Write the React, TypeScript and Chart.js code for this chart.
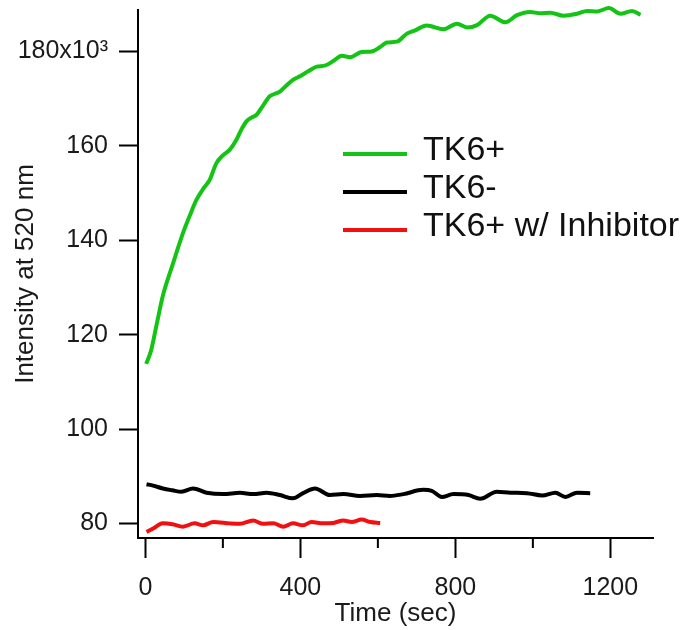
import React, { useEffect, useRef } from 'react';
import { Chart, registerables } from 'chart.js';

Chart.register(...registerables);

const seriesLabels = ['TK6+', 'TK6-', 'TK6+ w/ Inhibitor'];
const seriesColors = ['#14c414', '#000000', '#f20f0f'];

const tk6PlusTime = [2, 15, 30, 45, 71, 97, 115, 132, 150, 166, 183, 200, 218, 235, 248, 261, 274, 287, 304, 321, 347, 364, 381, 400, 420, 442, 463, 485, 507, 528, 558, 584, 605, 623, 649, 675, 696, 726, 769, 804, 830, 856, 890, 929, 959, 993, 1019, 1045, 1079, 1114, 1140, 1166, 1196, 1226, 1256, 1278];
const tk6PlusIntensity = [113.8, 116.7, 122.5, 128.2, 135.0, 141.5, 145.3, 148.6, 151.0, 152.8, 156.3, 158.0, 159.2, 161.3, 163.5, 165.2, 166.0, 166.6, 168.6, 170.5, 171.5, 172.8, 174.0, 174.8, 175.8, 176.8, 177.0, 178.0, 179.1, 178.8, 179.9, 180.0, 180.9, 181.9, 182.1, 183.8, 184.5, 185.5, 184.7, 185.9, 185.1, 185.6, 187.6, 186.2, 187.7, 188.4, 188.1, 188.2, 187.6, 188.0, 188.6, 188.5, 189.2, 188.0, 188.6, 187.8];

const tk6MinusTime = [3, 20, 45, 70, 93, 123, 158, 201, 244, 278, 313, 347, 381, 407, 438, 476, 511, 554, 597, 631, 666, 717, 739, 765, 795, 834, 864, 907, 942, 985, 1024, 1058, 1084, 1114, 1148];
const tk6MinusIntensity = [88.3, 88.0, 87.4, 87.0, 86.7, 87.4, 86.5, 86.2, 86.5, 86.2, 86.5, 86.0, 85.3, 86.4, 87.4, 86.0, 86.2, 85.8, 86.0, 85.8, 86.2, 87.1, 86.9, 85.6, 86.2, 86.0, 85.2, 86.7, 86.5, 86.4, 85.9, 86.5, 85.6, 86.5, 86.4];

const inhibitorTime = [3, 20, 45, 70, 97, 127, 149, 175, 218, 244, 278, 304, 330, 356, 381, 407, 429, 459, 485, 511, 532, 558, 580, 606];
const inhibitorIntensity = [78.2, 78.9, 80.0, 79.8, 79.3, 80.0, 79.6, 80.3, 80.0, 79.9, 80.6, 79.9, 80.0, 79.3, 80.0, 79.6, 80.3, 80.0, 80.1, 80.6, 80.3, 80.8, 80.3, 80.1];

const xMajorTicks = [0, 400, 800, 1200];
const xMinorTicks = [200, 600, 1000];
const yTickValues = [80, 100, 120, 140, 160, 180];
const yTickLabels = ['80', '100', '120', '140', '160', '180x10³'];

const FONT = "'Liberation Sans', Arial, sans-serif";

function toPoints(xs: number[], ys: number[]) {
  return xs.map((x, i) => ({ x, y: ys[i] }));
}

const minorTickPlugin = {
  id: 'minorTicks',
  afterDraw(chart: any) {
    const xs = chart.scales.x;
    const ctx = chart.ctx;
    ctx.save();
    ctx.strokeStyle = '#000';
    ctx.lineWidth = 2;
    xMinorTicks.forEach((v) => {
      const px = xs.getPixelForValue(v);
      ctx.beginPath();
      ctx.moveTo(px, xs.top);
      ctx.lineTo(px, xs.top + 10);
      ctx.stroke();
    });
    ctx.restore();
  },
};

const legendPlugin = {
  id: 'customLegend',
  afterDraw(chart: any) {
    const ctx = chart.ctx;
    ctx.save();
    chart.data.datasets.forEach((ds: any, i: number) => {
      const y = 154 + 38 * i;
      ctx.strokeStyle = ds.borderColor;
      ctx.lineWidth = 4;
      ctx.beginPath();
      ctx.moveTo(343, y);
      ctx.lineTo(407, y);
      ctx.stroke();
      ctx.fillStyle = '#111';
      ctx.font = `34px ${FONT}`;
      ctx.textAlign = 'left';
      ctx.textBaseline = 'middle';
      ctx.fillText(ds.label, 423, y - 3);
    });
    ctx.restore();
  },
};

export default function App() {
  const ref = useRef<HTMLCanvasElement>(null);

  useEffect(() => {
    if (!ref.current) return;
    const seriesTimes = [tk6PlusTime, tk6MinusTime, inhibitorTime];
    const seriesValues = [tk6PlusIntensity, tk6MinusIntensity, inhibitorIntensity];
    const chart = new Chart(ref.current, {
      type: 'line',
      data: {
        datasets: seriesLabels.map((label, i) => ({
          label,
          data: toPoints(seriesTimes[i], seriesValues[i]),
          borderColor: seriesColors[i],
          backgroundColor: seriesColors[i],
          borderWidth: 4,
          pointRadius: 0,
          cubicInterpolationMode: 'monotone' as const,
          fill: false,
          clip: false as any,
        })),
      },
      options: {
        responsive: false,
        animation: false,
        layout: { padding: { top: 10, right: 31, left: 0, bottom: 0 } },
        plugins: {
          legend: { display: false },
          tooltip: { enabled: false },
        },
        scales: {
          x: {
            type: 'linear',
            min: -19,
            max: 1310,
            afterFit: (scale: any) => {
              scale.height = 92;
              scale.paddingLeft = 0;
              scale.paddingRight = 0;
            },
            afterBuildTicks: (scale: any) => { scale.ticks = xMajorTicks.map((v) => ({ value: v })); },
            border: { display: true, color: '#000', width: 2 },
            grid: { drawOnChartArea: false, drawTicks: true, tickLength: 20, tickWidth: 2, tickColor: '#000' },
            ticks: {
              color: '#1a1a1a',
              font: { family: FONT, size: 25 },
              padding: 15,
              maxRotation: 0,
              callback: (v: any) => String(v),
            },
            title: {
              display: true,
              text: 'Time (sec)',
              color: '#1a1a1a',
              font: { family: FONT, size: 26 },
              padding: { top: 0, bottom: 1 },
            },
          },
          y: {
            type: 'linear',
            min: 76.9,
            max: 188.8,
            afterFit: (scale: any) => {
              scale.width = 138;
              scale.paddingTop = 0;
              scale.paddingBottom = 0;
            },
            afterBuildTicks: (scale: any) => { scale.ticks = yTickValues.map((v) => ({ value: v })); },
            border: { display: true, color: '#000', width: 2 },
            grid: { drawOnChartArea: false, drawTicks: true, tickLength: 19, tickWidth: 2, tickColor: '#000' },
            ticks: {
              color: '#1a1a1a',
              font: { family: FONT, size: 25 },
              padding: 11,
              callback: (v: any) => {
                const idx = yTickValues.indexOf(Number(v));
                return idx >= 0 ? yTickLabels[idx] : '';
              },
            },
            title: {
              display: true,
              text: 'Intensity at 520 nm',
              color: '#1a1a1a',
              font: { family: FONT, size: 26 },
              padding: { top: 10, bottom: 0 },
            },
          },
        },
      },
      plugins: [minorTickPlugin, legendPlugin],
    });
    return () => chart.destroy();
  }, []);

  return (
    <div style={{ position: 'absolute', left: 0, top: 0, width: 684, height: 630, background: '#fff' }}>
      <canvas ref={ref} width={684} height={630} style={{ display: 'block', width: 684, height: 630 }} />
    </div>
  );
}
